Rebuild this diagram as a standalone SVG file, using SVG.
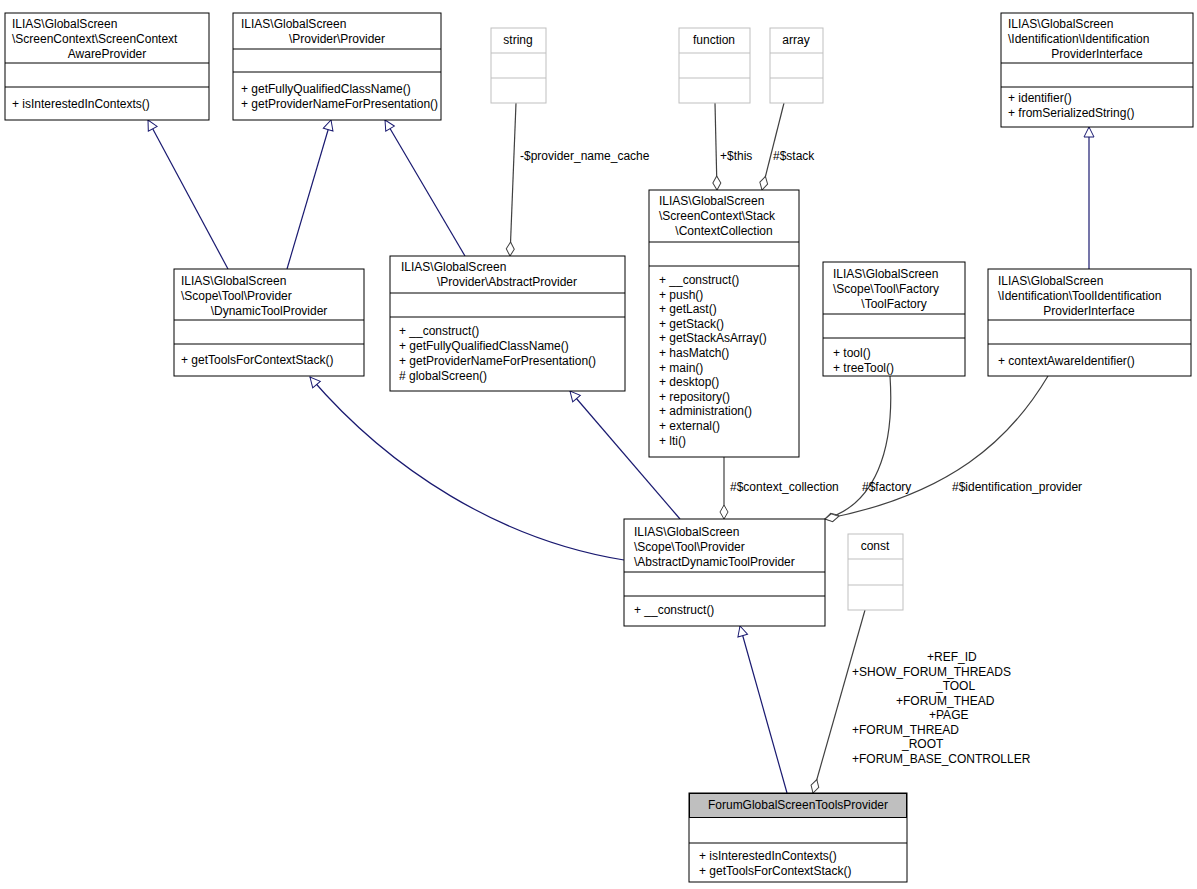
<svg xmlns="http://www.w3.org/2000/svg" width="1197" height="889" viewBox="0 0 1197 889">
<style>
text{font-family:"Liberation Sans",Arial,sans-serif;font-size:12px;fill:#000}
.b{fill:#fff;stroke:#000;stroke-width:1}
.g{fill:#fff;stroke:#bfbfbf;stroke-width:1}
.s{stroke:#000;stroke-width:1}
.sg{stroke:#bfbfbf;stroke-width:1}
.inh{fill:none;stroke:#191970;stroke-width:1.2;marker-end:url(#tri)}
.agg{fill:none;stroke:#404040;stroke-width:1.2;marker-end:url(#dia)}
.m{text-anchor:middle}
</style>
<defs>
<marker id="tri" viewBox="0 0 12 12" refX="11" refY="6" markerWidth="12" markerHeight="12" markerUnits="userSpaceOnUse" orient="auto"><path d="M1,1 L11,6 L1,11 Z" fill="#fff" stroke="#191970"/></marker>
<marker id="dia" viewBox="0 0 16 10" refX="15" refY="5" markerWidth="16" markerHeight="10" markerUnits="userSpaceOnUse" orient="auto"><path d="M1,5 L8,1 L15,5 L8,9 Z" fill="#fff" stroke="#404040"/></marker>
</defs>
<g id="connectors">
<path class="inh" d="M228,269 L148,120"/>
<path class="inh" d="M287,269 L331,120"/>
<path class="inh" d="M465,256 L385,120"/>
<path class="agg" d="M516,103 L510,256"/>
<text x="520" y="160">-$provider_name_cache</text>
<path class="agg" d="M715,103 L717,190"/>
<text x="720" y="160">+$this</text>
<path class="agg" d="M784,103 L762,190"/>
<text x="773" y="160">#$stack</text>
<path class="inh" d="M1089,269 L1089,127"/>
<path class="inh" d="M624,560 C500,540 390,470 310,377"/>
<path class="inh" d="M680,519 L570,391"/>
<path class="agg" d="M724,457 L724,519"/>
<text x="730" y="491">#$context_collection</text>
<path class="agg" d="M890,376 C895,450 875,505 825,519"/>
<text x="862" y="491">#$factory</text>
<path class="agg" d="M1048,376 C1010,440 950,495 825,519"/>
<text x="952" y="491">#$identification_provider</text>
<path class="inh" d="M787,793 L740,626"/>
<path class="agg" d="M865,610 L813,793"/>
<text x="927" y="661">+REF_ID</text>
<text x="852" y="676">+SHOW_FORUM_THREADS</text>
<text x="936" y="690">_TOOL</text>
<text x="896" y="705">+FORUM_THEAD</text>
<text x="929" y="719">+PAGE</text>
<text x="852" y="734">+FORUM_THREAD</text>
<text x="902" y="748">_ROOT</text>
<text x="852" y="763">+FORUM_BASE_CONTROLLER</text>
</g>
<g id="n1"><rect class="b" x="5" y="13" width="204" height="107"/><line class="s" x1="5" y1="63" x2="209" y2="63"/><line class="s" x1="5" y1="87" x2="209" y2="87"/>
<text x="12" y="28">ILIAS\GlobalScreen</text><text x="12" y="43">\ScreenContext\ScreenContext</text><text x="107" y="58" class="m">AwareProvider</text><text x="12" y="108">+ isInterestedInContexts()</text></g>
<g id="n2"><rect class="b" x="233" y="13" width="208" height="107"/><line class="s" x1="233" y1="49" x2="441" y2="49"/><line class="s" x1="233" y1="72" x2="441" y2="72"/>
<text x="241" y="28">ILIAS\GlobalScreen</text><text x="337" y="43" class="m">\Provider\Provider</text><text x="241" y="93">+ getFullyQualifiedClassName()</text><text x="241" y="108">+ getProviderNameForPresentation()</text></g>
<g id="n3"><rect class="g" x="491" y="28" width="55" height="75"/><line class="sg" x1="491" y1="53" x2="546" y2="53"/><line class="sg" x1="491" y1="78" x2="546" y2="78"/><text x="518" y="44" class="m">string</text></g>
<g id="n4"><rect class="g" x="679" y="28" width="71" height="75"/><line class="sg" x1="679" y1="53" x2="750" y2="53"/><line class="sg" x1="679" y1="78" x2="750" y2="78"/><text x="714" y="44" class="m">function</text></g>
<g id="n5"><rect class="g" x="770" y="28" width="53" height="75"/><line class="sg" x1="770" y1="53" x2="823" y2="53"/><line class="sg" x1="770" y1="78" x2="823" y2="78"/><text x="796" y="44" class="m">array</text></g>
<g id="n6"><rect class="b" x="1001" y="13" width="192" height="114"/><line class="s" x1="1001" y1="63" x2="1193" y2="63"/><line class="s" x1="1001" y1="87" x2="1193" y2="87"/>
<text x="1008" y="28">ILIAS\GlobalScreen</text><text x="1008" y="43">\Identification\Identification</text><text x="1097" y="58" class="m">ProviderInterface</text><text x="1008" y="102">+ identifier()</text><text x="1008" y="117">+ fromSerializedString()</text></g>
<g id="n7"><rect class="b" x="174" y="269" width="190" height="107"/><line class="s" x1="174" y1="320" x2="364" y2="320"/><line class="s" x1="174" y1="344" x2="364" y2="344"/>
<text x="181" y="285">ILIAS\GlobalScreen</text><text x="181" y="300">\Scope\Tool\Provider</text><text x="269" y="315" class="m">\DynamicToolProvider</text><text x="181" y="364">+ getToolsForContextStack()</text></g>
<g id="n8"><rect class="b" x="390" y="256" width="235" height="135"/><line class="s" x1="390" y1="293" x2="625" y2="293"/><line class="s" x1="390" y1="317" x2="625" y2="317"/>
<text x="401" y="271">ILIAS\GlobalScreen</text><text x="507" y="286" class="m">\Provider\AbstractProvider</text><text x="399" y="335">+ __construct()</text><text x="399" y="350">+ getFullyQualifiedClassName()</text><text x="399" y="365">+ getProviderNameForPresentation()</text><text x="399" y="380"># globalScreen()</text></g>
<g id="n9"><rect class="b" x="649" y="190" width="150" height="267"/><line class="s" x1="649" y1="242" x2="799" y2="242"/><line class="s" x1="649" y1="266" x2="799" y2="266"/>
<text x="659" y="205">ILIAS\GlobalScreen</text><text x="659" y="220">\ScreenContext\Stack</text><text x="724" y="235" class="m">\ContextCollection</text>
<text x="659" y="284">+ __construct()</text><text x="659" y="299">+ push()</text><text x="659" y="313">+ getLast()</text><text x="659" y="328">+ getStack()</text><text x="659" y="342">+ getStackAsArray()</text><text x="659" y="357">+ hasMatch()</text><text x="659" y="372">+ main()</text><text x="659" y="386">+ desktop()</text><text x="659" y="401">+ repository()</text><text x="659" y="415">+ administration()</text><text x="659" y="430">+ external()</text><text x="659" y="445">+ lti()</text></g>
<g id="n10"><rect class="b" x="823" y="262" width="142" height="114"/><line class="s" x1="823" y1="314" x2="965" y2="314"/><line class="s" x1="823" y1="338" x2="965" y2="338"/>
<text x="833" y="278">ILIAS\GlobalScreen</text><text x="833" y="293">\Scope\Tool\Factory</text><text x="894" y="308" class="m">\ToolFactory</text><text x="833" y="357">+ tool()</text><text x="833" y="372">+ treeTool()</text></g>
<g id="n11"><rect class="b" x="988" y="269" width="203" height="107"/><line class="s" x1="988" y1="320" x2="1191" y2="320"/><line class="s" x1="988" y1="344" x2="1191" y2="344"/>
<text x="998" y="285">ILIAS\GlobalScreen</text><text x="998" y="300">\Identification\ToolIdentification</text><text x="1089" y="315" class="m">ProviderInterface</text><text x="998" y="365">+ contextAwareIdentifier()</text></g>
<g id="n12"><rect class="b" x="624" y="519" width="201" height="107"/><line class="s" x1="624" y1="572" x2="825" y2="572"/><line class="s" x1="624" y1="596" x2="825" y2="596"/>
<text x="634" y="536">ILIAS\GlobalScreen</text><text x="634" y="551">\Scope\Tool\Provider</text><text x="634" y="566">\AbstractDynamicToolProvider</text><text x="634" y="614">+ __construct()</text></g>
<g id="n13"><rect class="g" x="848" y="534" width="55" height="76"/><line class="sg" x1="848" y1="559" x2="903" y2="559"/><line class="sg" x1="848" y1="585" x2="903" y2="585"/><text x="875" y="550" class="m">const</text></g>
<g id="n14"><rect class="b" x="689" y="793" width="218" height="89"/><rect x="689.5" y="793.5" width="217" height="24" fill="#bfbfbf" stroke="#000"/><line class="s" x1="689" y1="843" x2="907" y2="843"/>
<text x="798" y="809" class="m">ForumGlobalScreenToolsProvider</text><text x="699" y="860">+ isInterestedInContexts()</text><text x="699" y="875">+ getToolsForContextStack()</text></g>
</svg>
